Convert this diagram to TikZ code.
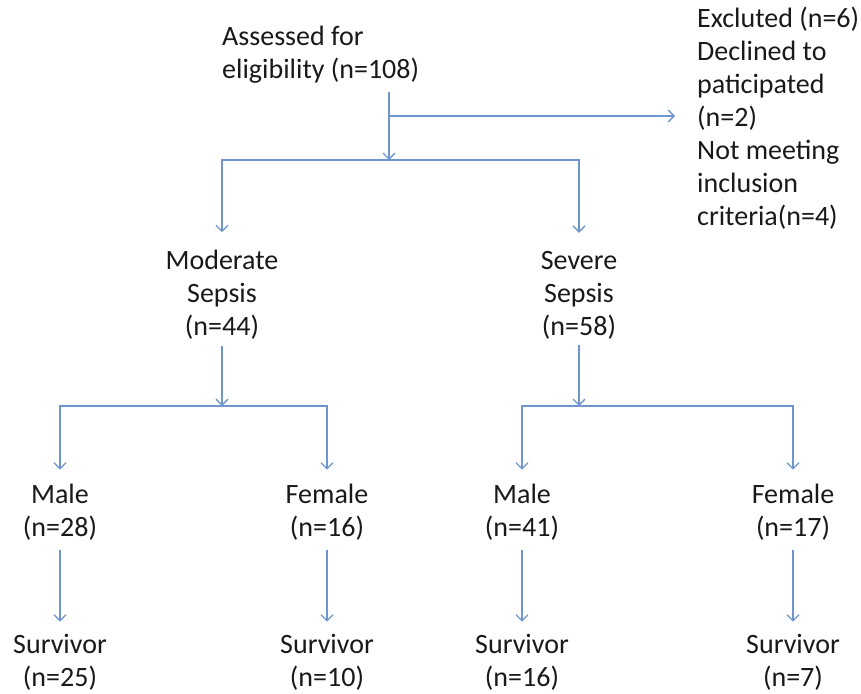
\documentclass[tikz,border=0pt]{standalone}
\usepackage{fontspec}
\setmainfont{Carlito}
\usetikzlibrary{calc,arrows.meta}

\definecolor{linkblue}{RGB}{110,150,205}

\begin{document}
\begin{tikzpicture}[x=1pt,y=-1pt,
  lbl/.style={inner sep=0pt,align=center,font=\fontsize{28}{33}\selectfont,text=black!90},
  link/.style={draw=linkblue,line width=1.3pt,-{Straight Barb[length=6pt,width=12pt]}}]

\useasboundingbox (0,0) rectangle (861,693);

% top of the chart
\node[lbl,anchor=west,align=left] (assess) at (222,55) {Assessed for\\eligibility (n=108)};
\node[lbl,anchor=west,align=left] (excl) at (697,118) {Excluted (n=6)\\Declined to\\paticipated\\(n=2)\\Not meeting\\inclusion\\criteria(n=4)};

\coordinate (root) at (389,92);
\coordinate (split) at (389,116);
\coordinate (fork) at (389,160);

\draw[link] (root) -- (fork);
\draw[link] (split) -- ([xshift=-22pt]excl.west |- split);

% sepsis groups
\node[lbl] (mod) at (222,295) {Moderate\\Sepsis\\(n=44)};
\node[lbl] (sev) at (579,295) {Severe\\Sepsis\\(n=58)};

\draw[link,shorten >=18pt] (fork) -| (mod.north);
\draw[link,shorten >=18pt] (fork) -| (sev.north);

\coordinate (modfork) at (222,406);
\coordinate (sevfork) at (579,406);
\draw[link,shorten <=6pt] (mod.south) -- (modfork);
\draw[link,shorten <=6pt] (sev.south) -- (sevfork);

% gender
\node[lbl] (m1) at (60,512) {Male\\(n=28)};
\node[lbl] (f1) at (327,512) {Female\\(n=16)};
\node[lbl] (m2) at (522,512) {Male\\(n=41)};
\node[lbl] (f2) at (793,512) {Female\\(n=17)};

\draw[link,shorten >=14pt] (modfork) -| (m1.north);
\draw[link,shorten >=14pt] (modfork) -| (f1.north);
\draw[link,shorten >=14pt] (sevfork) -| (m2.north);
\draw[link,shorten >=14pt] (sevfork) -| (f2.north);

% survivors
\node[lbl] (s1) at (60,662) {Survivor\\(n=25)};
\node[lbl] (s2) at (327,662) {Survivor\\(n=10)};
\node[lbl] (s3) at (522,662) {Survivor\\(n=16)};
\node[lbl] (s4) at (793,662) {Survivor\\(n=7)};

\foreach \g/\s in {m1/s1,f1/s2,m2/s3,f2/s4}
  \draw[link,shorten <=10pt,shorten >=12pt] (\g.south) -- (\s.north);

\end{tikzpicture}
\end{document}
